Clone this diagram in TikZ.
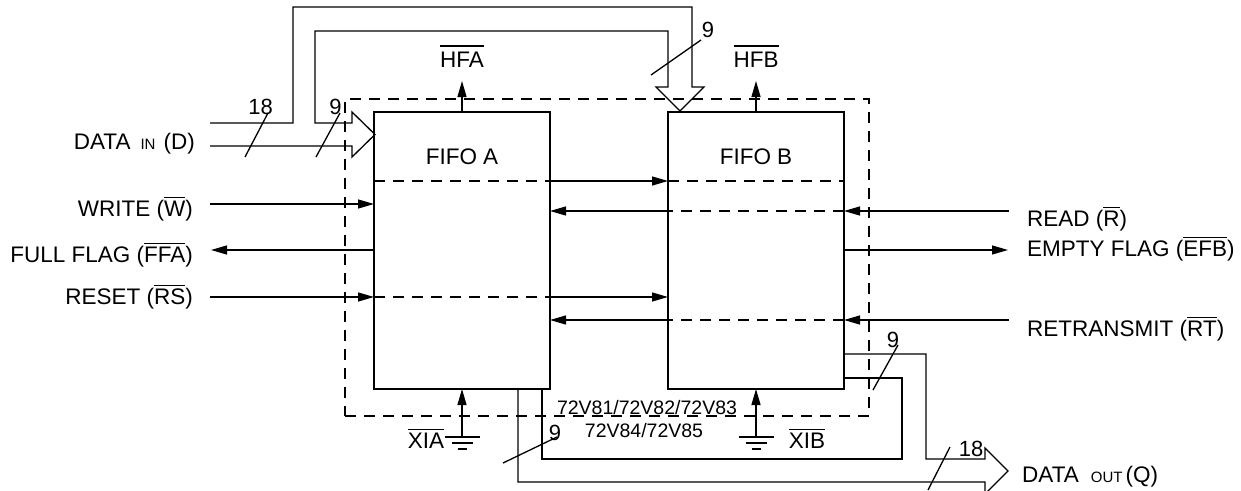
\documentclass[tikz,border=0pt]{standalone}
\usepackage{fontspec}
\setmainfont{Liberation Sans}
\usetikzlibrary{arrows.meta}
\newcommand\ob[2][2.5pt]{\leavevmode\vbox{\hrule height 1.2pt\kern#1\hbox{#2}}}
\begin{document}
\begin{tikzpicture}[x=1pt,y=-1pt,
  wire/.style={line width=1.3pt},
  sig/.style={wire,-{Triangle[length=16pt,width=9pt]}},
  dsh/.style={wire,dash pattern=on 11pt off 8pt},
  fifo/.style={draw,line width=2.6pt,rectangle,inner sep=0pt,outer sep=0pt,minimum width=176pt,minimum height=277pt},
  lbl/.style={inner sep=0pt,font=\fontsize{22.5}{26}\selectfont},
  num/.style={inner sep=0pt,font=\fontsize{22}{24}\selectfont},
  pn/.style={inner sep=0pt,font=\fontsize{19.5}{22}\selectfont}
]
\useasboundingbox (0,0) rectangle (1241,490);

% chip boundary
\node[draw,dsh,rectangle,inner sep=0pt,outer sep=0pt,minimum width=524pt,minimum height=317pt] (chip) at (607,257.5) {};

% FIFO boxes
\node[fifo] (A) at (462,250.5) {};
\node[fifo] (B) at (756,250.5) {};
\node[lbl,anchor=base] (ta) at (462,164) {FIFO A};
\node[lbl,anchor=base] (tb) at (756,164) {FIFO B};

% half-full flags
\node[lbl,anchor=base] (hfa) at (462,67) {\ob[5pt]{HFA}};
\node[lbl,anchor=base] (hfb) at (756,67) {\ob[5pt]{HFB}};
\coordinate (hfaT) at (462,81);
\coordinate (hfbT) at (756,81);
\draw[sig] (A.north) -- (hfaT);
\draw[sig] (B.north) -- (hfbT);

% left labels
\node[lbl,anchor=base east] (din) at (195,149) {DATA\hspace{10pt}{\fontsize{15}{15}\selectfont IN}\hspace{8pt}(D)};
\node[lbl,anchor=base east] (wr) at (193,216) {WRITE (\ob{W})};
\node[lbl,anchor=base east] (ff) at (193,262) {FULL FLAG (\ob{FFA})};
\node[lbl,anchor=base east] (rs) at (193,304) {RESET (\ob{RS})};

% right labels
\node[lbl,anchor=base west] (rd) at (1027,226) {READ (\ob{R})};
\node[lbl,anchor=base west] (ef) at (1027,256) {EMPTY FLAG (\ob{EFB})};
\node[lbl,anchor=base west] (rt) at (1027,336) {RETRANSMIT (\ob{RT})};
\node[lbl,anchor=base west] (dout) at (1022,482) {DATA\hspace{12pt}{\fontsize{15}{15}\selectfont OUT}\hspace{3pt}(Q)};

% signal end points
\coordinate (wrS) at (210,204);
\coordinate (ffE) at (211,250);
\coordinate (rsS) at (210,297);
\coordinate (rdS) at (1009,211);
\coordinate (efE) at (1008,250);
\coordinate (rtS) at (1009,320);

% write
\draw[sig] (wrS) -- (A.west |- wrS);
% full flag
\draw[sig] (A.west |- ffE) -- (ffE);
% reset
\draw[sig] (rsS) -- (A.west |- rsS);
\draw[dsh] (A.west |- rsS) -- (A.east |- rsS);
\draw[sig] (A.east |- rsS) -- (B.west |- rsS);
% write expansion line
\coordinate (w2) at (374,181);
\draw[dsh] (A.west |- w2) -- (A.east |- w2);
\draw[sig] (A.east |- w2) -- (B.west |- w2);
\draw[dsh] (B.west |- w2) -- (B.east |- w2);
% read
\draw[sig] (rdS) -- (B.east |- rdS);
\draw[dsh] (B.east |- rdS) -- (B.west |- rdS);
\draw[sig] (B.west |- rdS) -- (A.east |- rdS);
% empty flag
\draw[sig] (B.east |- efE) -- (efE);
% retransmit
\draw[sig] (rtS) -- (B.east |- rtS);
\draw[dsh] (B.east |- rtS) -- (B.west |- rtS);
\draw[sig] (B.west |- rtS) -- (A.east |- rtS);

% expansion in pins with ground
\coordinate (ga) at (462,437);
\coordinate (gb) at (756,437);
\draw[sig] (ga) -- (A.south);
\draw[sig] (gb) -- (B.south);
\foreach \g in {ga,gb}{
  \draw[wire] (\g) ++(-17.5,0) -- ++(35,0);
  \draw[wire] (\g) ++(-10.5,6) -- ++(21,0);
  \draw[wire] (\g) ++(-4.5,12) -- ++(9,0);
}
\node[lbl,anchor=base] (xia) at (426,448) {\ob{XIA}};
\node[lbl,anchor=base] (xib) at (807,448) {\ob{XIB}};

% part numbers
\node[pn,anchor=base] (pn1) at (647,414) {72V81/72V82/72V83};
\node[pn,anchor=base] (pn2) at (644,437) {72V84/72V85};

% input data bus
\draw[wire] (210,123) -- (293,123) -- (293,7) -- (692,7) -- (692,87) -- (704,87)
  -- (680,111) -- (656,87) -- (668,87) -- (668,31) -- (315,31) -- (315,123)
  -- (352,123) -- (352,112) -- (375,134.5) -- (352,157) -- (352,146) -- (210,146);

% output data bus
\draw[wire] (518,389) -- (518,482) -- (985,482) -- (985,494) -- (1008,471)
  -- (985,448) -- (985,459) -- (926,459) -- (926,354) -- (845,354);
\draw[wire] (845,378) -- (902,378) -- (902,459) -- (542,459) -- (542,389);

% bus width marks
\draw[wire] (245,157) -- (268,113);
\draw[wire] (316,157) -- (340,113);
\draw[wire] (651,75) -- (701,40);
\draw[wire] (503,463) -- (557,437);
\draw[wire] (873,390) -- (898,345);
\draw[wire] (928,490) -- (950,447);
\node[num,anchor=base] (n18a) at (260.5,114) {18};
\node[num,anchor=base] (n9a) at (335.5,114) {9};
\node[num,anchor=base] (n9b) at (708,37) {9};
\node[num,anchor=base] (n9c) at (555,440) {9};
\node[num,anchor=base] (n9d) at (893,347) {9};
\node[num,anchor=base] (n18b) at (971,456) {18};
\end{tikzpicture}
\end{document}
